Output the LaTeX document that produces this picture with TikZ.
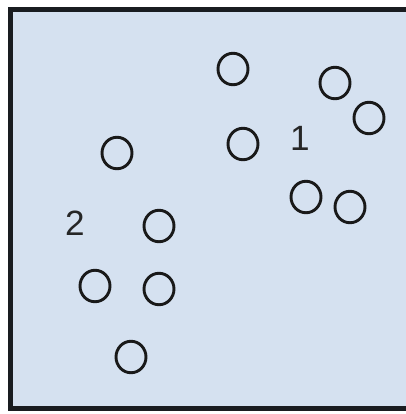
\documentclass[tikz,border=0pt]{standalone}
\usepackage{fontspec}
\setmainfont{Liberation Sans}
\usepackage{tikz}
\usetikzlibrary{shapes.geometric}
\definecolor{paneblue}{RGB}{213,225,240}
\definecolor{paneedge}{RGB}{25,28,32}

\begin{document}
\begin{tikzpicture}[
  x=0.02cm, y=-0.02cm,
  pt/.style={ellipse, draw=black!90, line width=0.058cm, minimum width=0.6cm, minimum height=0.63cm, inner sep=0pt},
  tag/.style={font=\fontsize{20}{24}\selectfont, text=black!85, inner sep=0pt}
]
\clip (0,0) rectangle (406,414);
\fill[white] (0,0) rectangle (406,414);
\draw[paneedge, fill=paneblue, line width=0.1cm] (10.5,9.5) rectangle (430,408);

% cluster 1
\node[pt] (a1) at (233,69) {};
\node[pt] (a2) at (335,83) {};
\node[pt] (a3) at (369,118) {};
\node[pt] (a4) at (243,144) {};
\node[pt] (a5) at (306,197) {};
\node[pt] (a6) at (350,207) {};
\node[tag] (l1) at (300,138) {1};

% cluster 2
\node[pt] (b1) at (117,153) {};
\node[pt] (b2) at (159,226) {};
\node[pt] (b3) at (95,286) {};
\node[pt] (b4) at (159,289) {};
\node[pt] (b5) at (131,357) {};
\node[tag] (l2) at (75,223) {2};
\end{tikzpicture}
\end{document}
